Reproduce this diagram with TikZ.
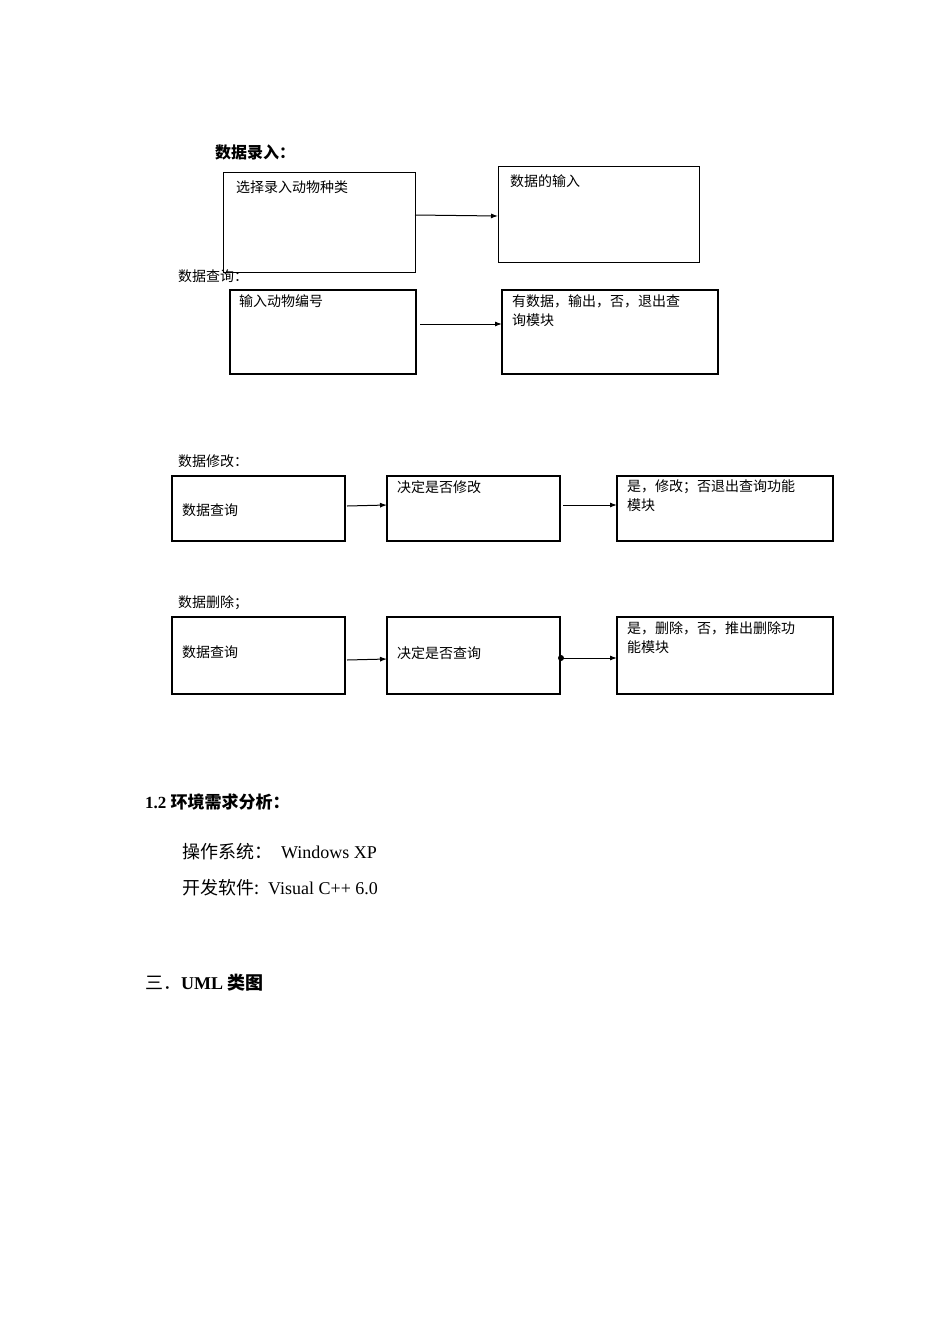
\documentclass[tikz,border=0pt]{standalone}
\usepackage{fontspec}
\setmainfont{Liberation Serif}
\newfontfamily\cjk{Noto Sans CJK SC}
\usetikzlibrary{arrows.meta}
\tikzset{
 bx/.style={draw,line width=1.2pt,anchor=north west,inner sep=0pt},
 tx/.style={anchor=north west,font=\cjk\fontsize{14}{19}\selectfont,inner sep=0pt,align=left},
 lb/.style={anchor=west,inner sep=0pt,font=\cjk\fontsize{14}{16}\selectfont},
 ar/.style={-{Latex[length=7pt,width=5pt]},line width=1pt}
}
\begin{document}
\begin{tikzpicture}[x=1pt,y=-1pt]
\useasboundingbox (0,0) rectangle (950,1344);
\newcommand{\bxx}[6]{\draw[line width=1.2pt] (#2,#3) rectangle (#4,#5); \node[inner sep=0pt] (#1) at ({(#2+#4)/2},{(#3+#5)/2}) [minimum width=#4-#2, minimum height=#5-#3] {};}
\node[lb,font=\cjk\bfseries\fontsize{16}{18}\selectfont] (l1) at (215,152) {数据录入：};
\draw[line width=0.8pt] (223,172) rectangle (415,272); \node (a1) at (319,222) [minimum width=192,minimum height=100] {};
\node[tx] (t1) at (236,181) {选择录入动物种类};
\draw[line width=0.8pt] (498,166) rectangle (699,262); \node (a2) at (598,214) [minimum width=201,minimum height=96] {};
\node[tx] (t2) at (510,174) {数据的输入};
\draw[ar] (415,215) -- (498,216);
\node[lb] (l2) at (178,276) {数据查询：};
\draw[line width=1.5pt] (230,290) rectangle (416,374);
\node[tx] (t3) at (239,294) {输入动物编号};
\draw[line width=1.5pt] (502,290) rectangle (718,374);
\node[tx] (t4) at (512,294) {有数据，输出，否，退出查\\询模块};
\draw[ar] (420,324) -- (502,324);
\node[lb] (l3) at (178,461) {数据修改：};
\draw[line width=1.5pt] (172,476) rectangle (345,541);
\draw[line width=1.5pt] (387,476) rectangle (560,541);
\draw[line width=1.5pt] (617,476) rectangle (833,541);
\node[tx] at (182,504) {数据查询};
\node[tx] at (397,480) {决定是否修改};
\node[tx] at (627,480) {是，修改；否退出查询功能\\模块};
\draw[ar] (347,506) -- (387,505);
\draw[ar] (563,505) -- (617,505);
\node[lb] (l4) at (178,603) {数据删除；};
\draw[line width=1.5pt] (172,617) rectangle (345,694);
\draw[line width=1.5pt] (387,617) rectangle (560,694);
\draw[line width=1.5pt] (617,617) rectangle (833,694);
\node[tx] at (182,646) {数据查询};
\node[tx] at (397,646) {决定是否查询};
\node[tx] at (627,621) {是，删除，否，推出删除功\\能模块};
\draw[ar] (347,660) -- (387,659);
\fill (561,658) circle (3);
\draw[ar] (561,658) -- (617,658);
\node[lb,font=\bfseries\fontsize{17}{19}\selectfont] at (145,802) {1.2 \cjk 环境需求分析：};
\node[lb,font=\fontsize{18}{20}\selectfont] at (182,852) {{\cjk 操作系统：}\ \ Windows XP};
\node[lb,font=\fontsize{18}{20}\selectfont] at (182,888) {{\cjk 开发软件:}\ \ Visual C++ 6.0};
\node[lb,font=\fontsize{18}{20}\selectfont] at (145,983) {{\cjk 三．}\textbf{UML \cjk 类图}};
\end{tikzpicture}
\end{document}
